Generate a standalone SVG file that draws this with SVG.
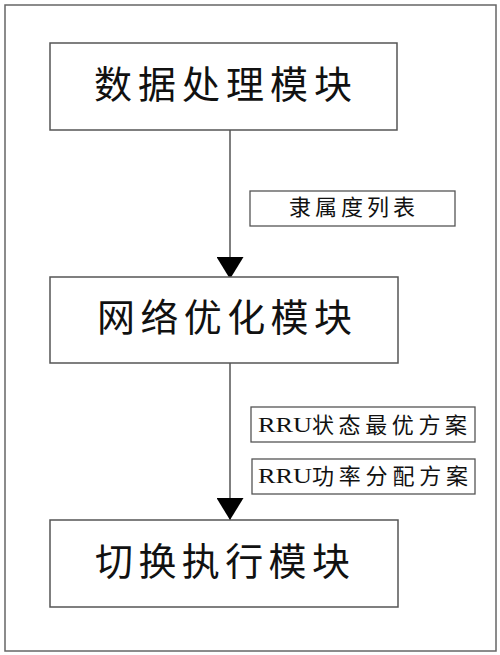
<svg xmlns="http://www.w3.org/2000/svg" width="500" height="655" viewBox="0 0 500 655">
<defs>
<style>
.frame{fill:#fff;stroke:#666;stroke-width:1.5}
.box{fill:#fff;stroke:#555;stroke-width:1.5}
.lbl{fill:#fff;stroke:#555;stroke-width:1.3}
.big{font-family:"Liberation Serif","Noto Sans CJK SC",serif;font-size:38px;fill:#111}
.small{font-family:"Liberation Serif","Noto Sans CJK SC",serif;font-size:22px;fill:#111}
.conn{stroke:#555;stroke-width:1.5;fill:none}
</style>
<marker id="arr" viewBox="0 0 22 27" refX="22" refY="13.5" markerWidth="22" markerHeight="27" markerUnits="userSpaceOnUse" orient="auto">
<path d="M0,0 L22,13.5 L0,27 z" fill="#000"/>
</marker>
</defs>
<rect x="0" y="0" width="500" height="655" fill="#fff"/>
<rect class="frame" x="5" y="5" width="491" height="646"/>
<g id="connectors">
<line class="conn" x1="230" y1="130" x2="230" y2="279" marker-end="url(#arr)"/>
<line class="conn" x1="230" y1="363" x2="230" y2="520" marker-end="url(#arr)"/>
</g>
<g id="node-data">
<rect class="box" x="50" y="43" width="347" height="87"/>
<text class="big" x="94" y="98" textLength="258" lengthAdjust="spacing">数据处理模块</text>
</g>
<g id="node-network">
<rect class="box" x="50" y="277" width="348" height="86"/>
<text class="big" x="97" y="331" textLength="255" lengthAdjust="spacing">网络优化模块</text>
</g>
<g id="node-switch">
<rect class="box" x="50" y="520" width="348" height="87"/>
<text class="big" x="95" y="575" textLength="255" lengthAdjust="spacing">切换执行模块</text>
</g>
<g id="label-membership">
<rect class="lbl" x="250" y="191" width="205" height="35"/>
<text class="small" x="289" y="215" font-size="21" textLength="126" lengthAdjust="spacing">隶属度列表</text>
</g>
<g id="label-state">
<rect class="lbl" x="251" y="407" width="224" height="35"/>
<text class="small" x="258" y="432" textLength="54" lengthAdjust="spacingAndGlyphs">RRU</text>
<text class="small" x="312" y="433" textLength="155" lengthAdjust="spacing">状态最优方案</text>
</g>
<g id="label-power">
<rect class="lbl" x="252" y="459" width="223" height="35"/>
<text class="small" x="258" y="483" textLength="54" lengthAdjust="spacingAndGlyphs">RRU</text>
<text class="small" x="312" y="484" textLength="156" lengthAdjust="spacing">功率分配方案</text>
</g>
</svg>
